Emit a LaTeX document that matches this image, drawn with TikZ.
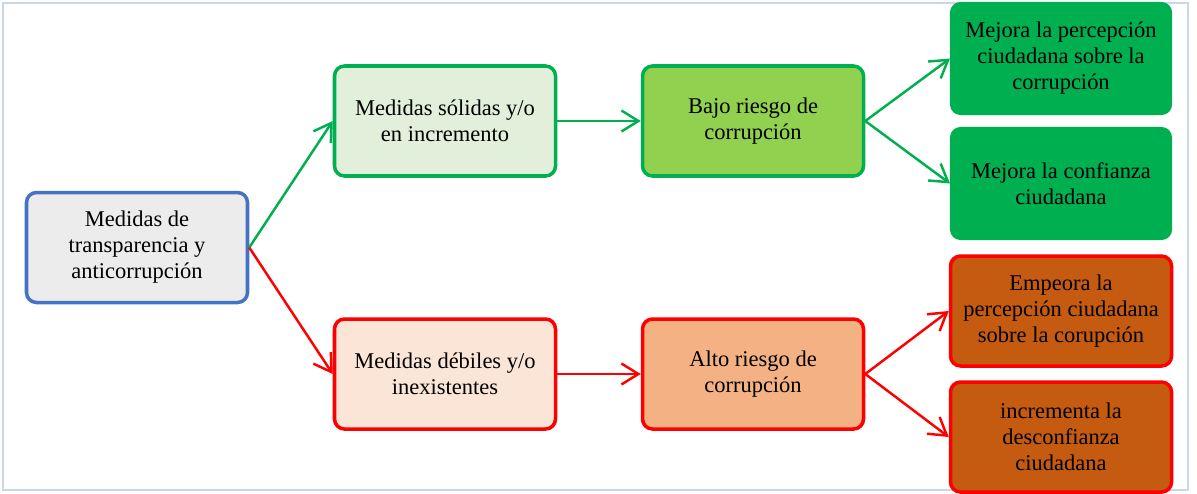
\documentclass[tikz,border=0pt]{standalone}
\usepackage{fontspec}
\setmainfont{Liberation Serif}
\usetikzlibrary{arrows.meta}

\definecolor{BlueLine}{RGB}{68,114,196}
\definecolor{RootFill}{RGB}{236,236,236}
\definecolor{GreenLine}{RGB}{0,176,80}
\definecolor{SolidFill}{RGB}{226,239,218}
\definecolor{LowFill}{RGB}{146,208,80}
\definecolor{RedLine}{RGB}{255,0,0}
\definecolor{WeakFill}{RGB}{251,229,214}
\definecolor{HighFill}{RGB}{244,177,131}
\definecolor{BrownFill}{RGB}{197,90,17}
\definecolor{FrameLine}{RGB}{205,213,236}

\begin{document}
\begin{tikzpicture}[-{Straight Barb[length=3.4mm,width=4.2mm]},node distance=6.16cm,
      line width=1.4pt,
      box/.style={rectangle,rounded corners=0.2cm,line width=2pt,minimum width=4.42cm,
        minimum height=2.2cm,align=center,font=\fontsize{12.8}{14.8}\selectfont},
      green node/.style={box,draw=GreenLine},
      red node/.style={box,draw=RedLine}]
 \useasboundingbox (-2.74,-4.91) rectangle (21.2,4.95);
 \draw[-,FrameLine,line width=0.8pt] (-2.68,4.89) rectangle (21.02,-4.85);

 \node[box, draw=BlueLine, fill=RootFill] (root) {Medidas de\\transparencia y\\anticorrupción};
 \node[green node, fill=SolidFill, yshift=2.53cm] (solid) [right of=root] {Medidas sólidas y/o\\en incremento};
 \node[red node, fill=WeakFill, yshift=-2.53cm] (weak) [right of=root] {Medidas débiles y/o\\inexistentes};
 \node[green node, fill=LowFill] (low) [right of=solid] {Bajo riesgo de\\corrupción};
 \node[red node, fill=HighFill] (high) [right of=weak] {Alto riesgo de\\corrupción};
 \node[box, draw=GreenLine, line width=0.6pt, fill=GreenLine, minimum height=2.24cm, yshift=1.25cm] (perc1) [right of=low] {Mejora la percepción\\ciudadana sobre la\\corrupción};
 \node[box, draw=GreenLine, line width=0.6pt, fill=GreenLine, minimum height=2.24cm, yshift=-1.25cm] (conf1) [right of=low] {Mejora la confianza\\ciudadana};
 \node[red node, fill=BrownFill, yshift=1.26cm] (perc2) [right of=high] {Empeora la\\percepción ciudadana\\sobre la corupción};
 \node[red node, fill=BrownFill, yshift=-1.26cm] (desc2) [right of=high] {incrementa la\\desconfianza\\ciudadana};

\path
 (root.east) edge [GreenLine] (solid.west)
 (root.east) edge [RedLine] (weak.west)
 (solid) edge [GreenLine] (low)
 (weak) edge [RedLine] (high)
 (low.east) edge [GreenLine] (perc1.west)
 (low.east) edge [GreenLine] (conf1.west)
 (high.east) edge [RedLine] (perc2.west)
 (high.east) edge [RedLine] (desc2.west)
 ;
\end{tikzpicture}
\end{document}
